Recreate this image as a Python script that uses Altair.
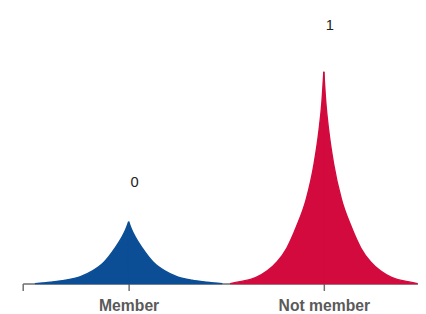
import altair as alt
import pandas as pd

# Member (blue) curve
blue_x = [-0.48, -0.40, -0.325, -0.25, -0.185, -0.125, -0.07, -0.035, -0.015, 0.0,
          0.015, 0.035, 0.07, 0.125, 0.185, 0.25, 0.325, 0.40, 0.48]
blue_y = [0.0, 0.007, 0.016, 0.032, 0.060, 0.102, 0.167, 0.218, 0.255, 0.292,
          0.255, 0.218, 0.167, 0.102, 0.060, 0.032, 0.016, 0.007, 0.0]

# Not member (red) curve
red_x = [0.52, 0.57, 0.65, 0.71, 0.76, 0.81, 0.86, 0.91, 0.95, 0.975, 0.99, 1.0,
         1.01, 1.025, 1.05, 1.09, 1.14, 1.19, 1.24, 1.29, 1.35, 1.43, 1.48]
red_y = [0.0, 0.009, 0.028, 0.060, 0.102, 0.167, 0.269, 0.398, 0.565, 0.722, 0.856, 1.0,
         0.856, 0.722, 0.565, 0.398, 0.269, 0.167, 0.102, 0.060, 0.028, 0.009, 0.0]

categories = ["Member", "Not member"]
colors = ["#0c4e96", "#d20a3d"]

label_x = [0, 1]
label_y = [0.481, 1.222]
label_text = ["0", "1"]


def halves(xs, ys, group):
    rows = []
    peak = ys.index(max(ys))
    for i in range(0, peak + 1):
        rows.append({"x": xs[i], "y": ys[i], "group": group, "part": group + "-L"})
    for i in range(peak, len(xs)):
        rows.append({"x": xs[i], "y": ys[i], "group": group, "part": group + "-R"})
    return rows


df = pd.DataFrame(halves(blue_x, blue_y, categories[0]) + halves(red_x, red_y, categories[1]))
labels = pd.DataFrame({"x": label_x, "y": label_y, "t": label_text})

x_left = -0.5427
x_right = 1.4824

xscale = alt.Scale(domain=[x_left, x_right], nice=False, zero=False)
yscale = alt.Scale(domain=[0, 1.287], nice=False, zero=True)
cscale = alt.Scale(domain=categories, range=colors)

area = alt.Chart(df).mark_area(interpolate="monotone", strokeWidth=1.4, strokeJoin="miter").encode(
    x=alt.X("x:Q", scale=xscale,
            axis=alt.Axis(values=[x_left, 0, 1],
                          labelExpr="datum.value == 0 ? 'Member' : (datum.value == 1 ? 'Not member' : '')",
                          grid=False, title=None, labelOverlap=False, labelFlush=False,
                          domainColor="#6e6e6e", domainWidth=1.5,
                          tickColor="#6e6e6e", tickWidth=1.5, tickSize=7,
                          labelColor="#5a5a5a", labelFontSize=16, labelFontWeight="bold",
                          labelFont="Liberation Sans", labelPadding=7)),
    y=alt.Y("y:Q", scale=yscale, axis=None, stack=None),
    color=alt.Color("group:N", scale=cscale, legend=None),
    stroke=alt.Stroke("group:N", scale=cscale, legend=None),
    detail="part:N",
)

text = alt.Chart(labels).mark_text(dx=6, fontSize=15, color="#222222", baseline="middle",
                                   font="Liberation Sans").encode(
    x=alt.X("x:Q", scale=xscale),
    y=alt.Y("y:Q", scale=yscale),
    text="t:N",
)

chart = alt.layer(area, text).properties(
    width=403, height=278,
    autosize=alt.AutoSizeParams(type="none"),
    padding={"left": 15, "right": 0, "top": 0, "bottom": 28},
).configure_view(stroke=None)

chart.save("out.html", embed_options={"renderer": "svg", "actions": False})
